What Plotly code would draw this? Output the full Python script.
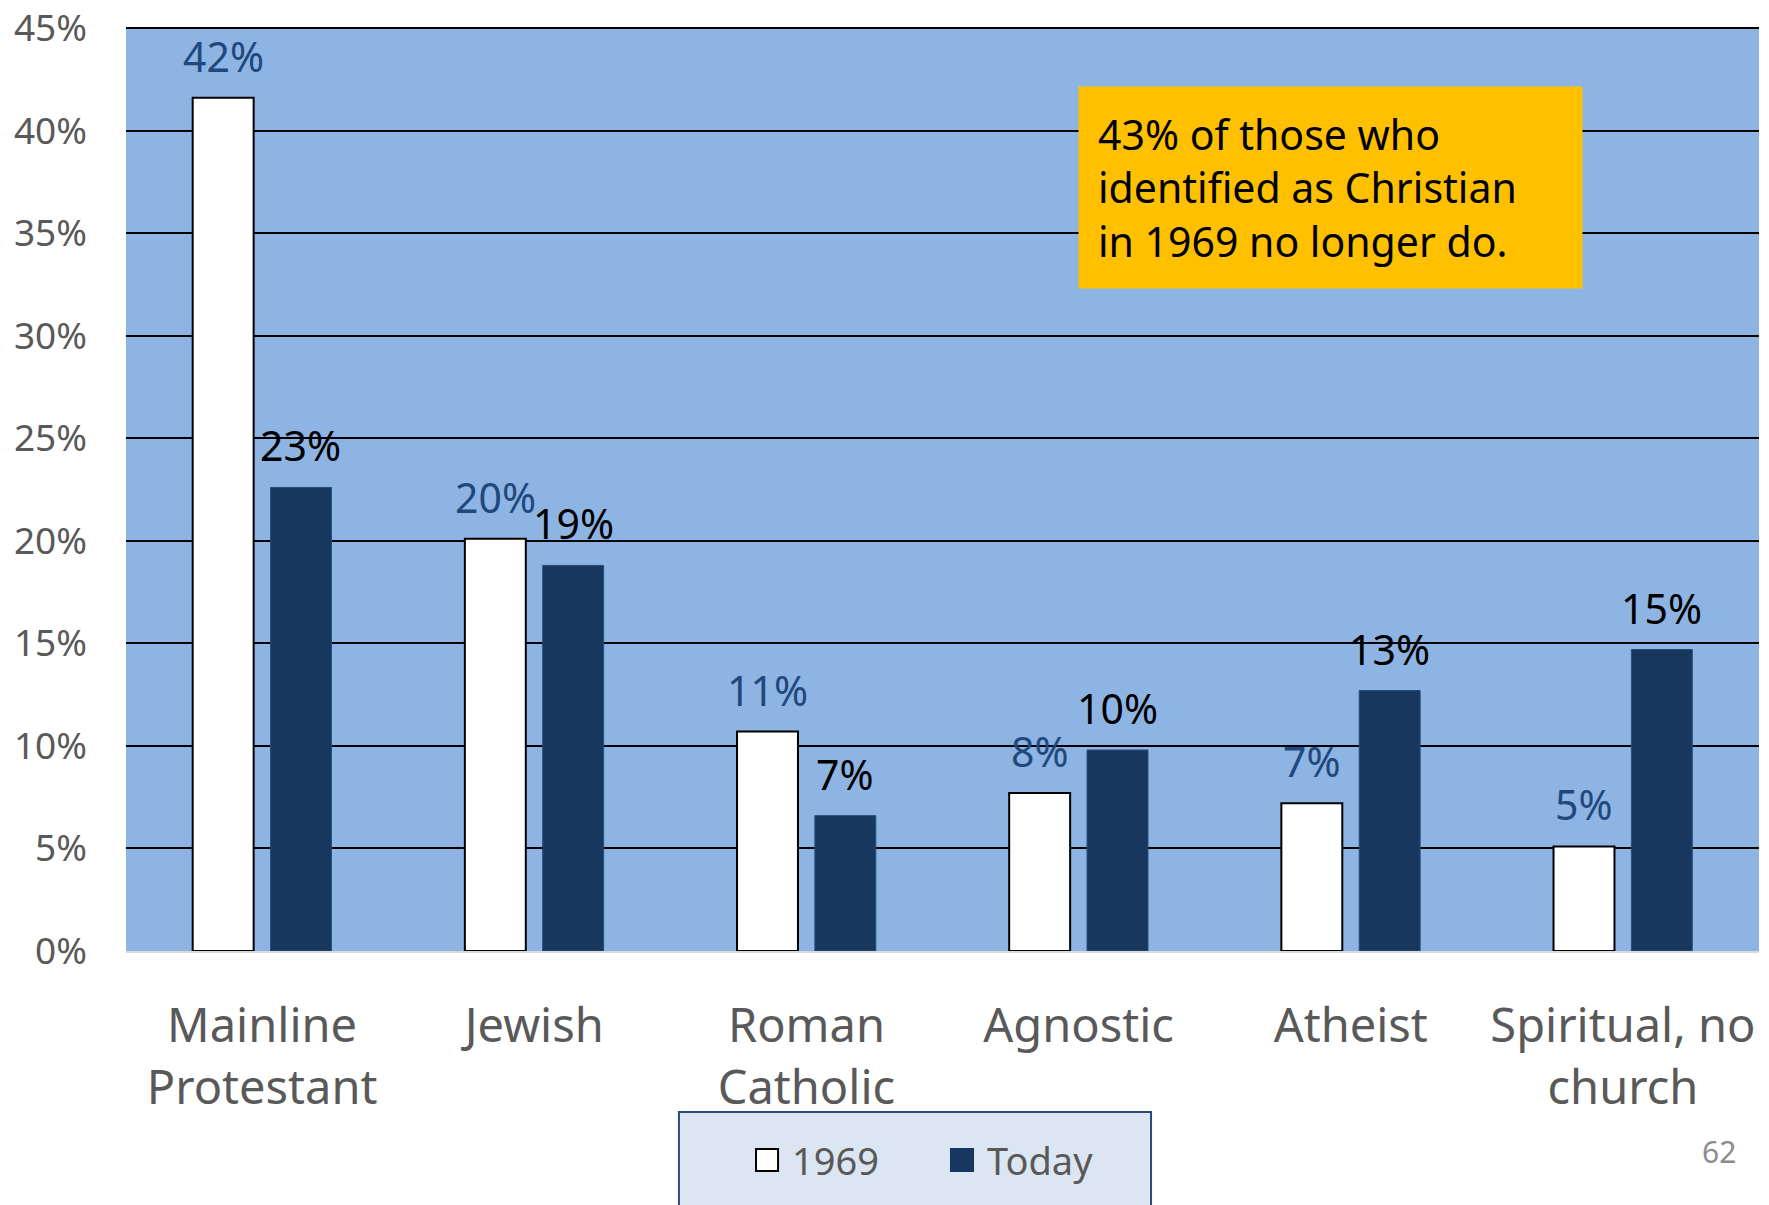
import plotly.graph_objects as go

# Religious identification, 1969 vs today (share of respondents)
categories = ["Mainline<br>Protestant", "Jewish", "Roman<br>Catholic",
              "Agnostic", "Atheist", "Spiritual, no<br>church"]
share_1969 = [0.416, 0.201, 0.107, 0.077, 0.072, 0.051]
share_today = [0.226, 0.188, 0.066, 0.098, 0.127, 0.147]
y_ticks = [0, 0.05, 0.10, 0.15, 0.20, 0.25, 0.30, 0.35, 0.40, 0.45]

FONT = "Noto Sans"
NAVY = "#17375E"
PLOT_BG = "#8EB4E3"
GRAY = "#595959"
LABEL_1969 = "#1F497D"

W, H = 1769, 1205
M_L, M_R, M_T, M_B = 126, 10, 27, 254
BARGAP, BARGROUPGAP = 0.428, 0.217

fig = go.Figure()

fig.add_trace(go.Bar(
    name="1969", x=categories, y=share_1969,
    marker=dict(color="white", line=dict(color="black", width=2)),
))
fig.add_trace(go.Bar(
    name="Today", x=categories, y=share_today,
    marker=dict(color=NAVY, line=dict(color="#2A4D7A", width=1)),
))

# value labels above each bar, offset to the bar's slot within its group
plot_w = W - M_L - M_R
slot_px = plot_w / len(categories) * (1 - BARGAP) / 2
for values, side, color in [(share_1969, -1, LABEL_1969), (share_today, 1, "black")]:
    for cat, v in zip(categories, values):
        fig.add_annotation(
            x=cat, y=v, xref="x", yref="y", text=f"{v:.0%}",
            xshift=side * slot_px / 2, yshift=12, yanchor="bottom",
            showarrow=False, font=dict(family=FONT, size=41, color=color),
        )

# legend frame (runs off the bottom of the page)
fig.add_shape(type="rect", xref="paper", yref="paper",
              x0=0.3386, x1=0.6277, y0=-0.1742, y1=-0.40,
              fillcolor="#DCE6F2", line=dict(color="#2B4A75", width=2),
              layer="below")

# legend swatches and labels
legend_items = [("1969", "white", "black", 0.3858, 0.4066),
                ("Today", NAVY, NAVY, 0.5052, 0.5260)]
for label, fill, edge, sx, tx in legend_items:
    fig.add_shape(type="rect", xref="paper", yref="paper",
                  x0=sx, x1=sx + 0.0135, y0=-0.2381, y1=-0.2143,
                  fillcolor=fill, line=dict(color=edge, width=2))
    fig.add_annotation(xref="paper", yref="paper", x=tx, y=-0.2262,
                       xanchor="left", yanchor="middle", text=label,
                       showarrow=False,
                       font=dict(family=FONT, size=38, color=GRAY))

# callout box
fig.add_annotation(
    xref="paper", yref="paper", x=0.583, y=0.936,
    xanchor="left", yanchor="top", align="left",
    text="43% of those who<br>identified as Christian<br>in 1969 no longer do.",
    font=dict(family=FONT, size=41, color="black"),
    bgcolor="#FFC000", borderpad=19, width=465, showarrow=False,
)

# page number
fig.add_annotation(
    xref="paper", yref="paper", x=0.9755, y=-0.2165,
    xanchor="center", yanchor="middle",
    text="62", showarrow=False,
    font=dict(family=FONT, size=30, color="#8C8C8C"),
)

fig.update_layout(
    width=W, height=H,
    margin=dict(l=M_L, r=M_R, t=M_T, b=M_B, autoexpand=False),
    paper_bgcolor="white", plot_bgcolor=PLOT_BG,
    barmode="group", bargap=BARGAP, bargroupgap=BARGROUPGAP,
    font=dict(family=FONT, color=GRAY),
    showlegend=False,
)

fig.update_xaxes(
    showgrid=False, showline=True, linecolor="#D9D9D9", linewidth=2,
    tickfont=dict(family=FONT, size=47, color=GRAY),
    ticks="", ticklabelstandoff=33,
)
fig.update_yaxes(
    range=[0, 0.4505], tickvals=y_ticks, tickformat=".0%",
    showgrid=True, gridcolor="black", gridwidth=1.5, zeroline=False,
    tickfont=dict(family=FONT, size=37, color=GRAY),
    ticks="", ticklabelstandoff=38, ticklabeloverflow="allow",
)

fig.write_html("out.html")
